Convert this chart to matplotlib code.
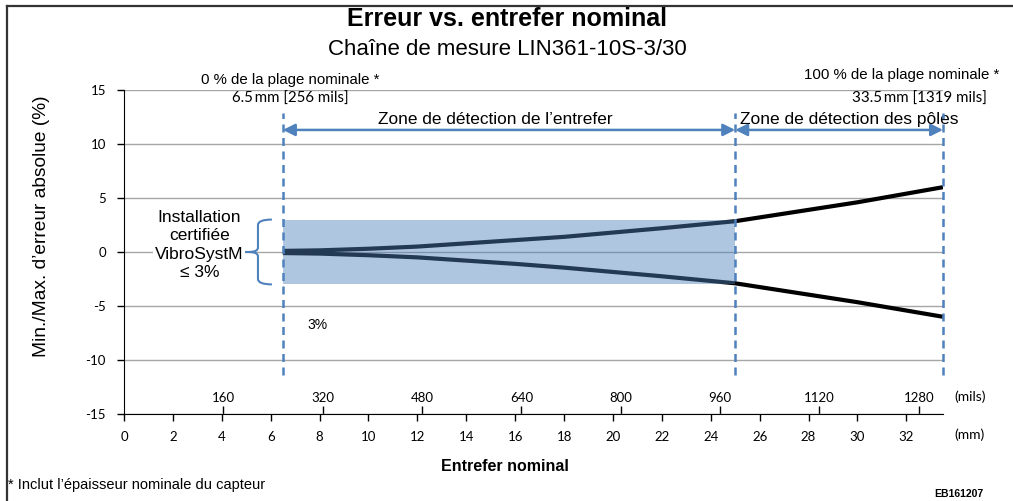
import matplotlib
matplotlib.use("Agg")
import matplotlib.pyplot as plt
from matplotlib.lines import Line2D
from matplotlib.patches import PathPatch
from matplotlib.path import Path

plt.rcParams["font.family"] = ["Liberation Sans", "DejaVu Sans"]
plt.rcParams["axes.unicode_minus"] = False

# données (entrefer en mm, erreur en %)
gap_mm = [6.5, 8, 10, 12, 14, 16, 18, 20, 22, 25, 28, 30, 33.5]
err_max = [0.1, 0.15, 0.3, 0.5, 0.8, 1.1, 1.4, 1.8, 2.2, 2.85, 3.9, 4.6, 6.0]
err_min = [-0.1, -0.15, -0.3, -0.5, -0.8, -1.1, -1.45, -1.85, -2.25, -2.9, -3.95, -4.65, -6.0]

gap_start = 6.5      # 0 % de la plage nominale
gap_switch = 25.0    # passage entrefer -> pôles
gap_end = 33.5       # 100 % de la plage nominale
certified_tol = 3.0  # installation certifiée <= 3 %

mm_ticks = list(range(0, 33, 2))
mils_ticks = [160, 320, 480, 640, 800, 960, 1120, 1280]
y_ticks = [15, 10, 5, 0, -5, -10, -15]

BLUE = "#4F81BD"
NUM_FONT = ["Lato", "DejaVu Sans"]

fig = plt.figure(figsize=(10.13, 5.01), dpi=100)
ax = fig.add_axes([0.1224, 0.1737, 0.8085, 0.6467])

ax.set_xlim(0, gap_end)
ax.set_ylim(-15, 15)
ax.set_yticks(y_ticks)
ax.set_xticks(mm_ticks)
ax.grid(axis="y", color="#a6a6a6", linewidth=1.0)
ax.set_axisbelow(True)
for s in ("top", "right"):
    ax.spines[s].set_visible(False)
ax.tick_params(axis="both", direction="out", length=5, width=1.0, labelsize=9.5)
ax.tick_params(axis="x", pad=7)
ax.tick_params(axis="y", pad=8)
for lab in ax.get_xticklabels() + ax.get_yticklabels():
    lab.set_family(NUM_FONT)

# axe secondaire en mils, graduations vers le haut sur le même axe
sec = ax.secondary_xaxis(0.0, functions=(lambda v: v / 0.0254, lambda v: v * 0.0254))
sec.set_alignment("top")
sec.set_xticks(mils_ticks)
sec.tick_params(axis="x", direction="out", length=6, width=1.0, labelsize=9.5, pad=1)
for lab in sec.get_xticklabels():
    lab.set_family(NUM_FONT)
for s in sec.spines.values():
    s.set_visible(False)

ax.text(34.6, -13.4, "(mils)", ha="center", va="center", fontsize=10, family=NUM_FONT, clip_on=False)
ax.text(34.6, -16.95, "(mm)", ha="center", va="center", fontsize=10, family=NUM_FONT, clip_on=False)

# courbes min / max
ax.plot(gap_mm, err_max, color="black", linewidth=3.0, zorder=3, solid_capstyle="butt")
ax.plot(gap_mm, err_min, color="black", linewidth=3.0, zorder=3, solid_capstyle="butt")

# zone certifiée
ax.fill_between([gap_start, gap_switch], -certified_tol, certified_tol,
                color=BLUE, alpha=0.45, linewidth=0, zorder=4)

# limites verticales en tirets
ax.vlines([gap_start, gap_switch, gap_end], -11.4, 12.9, colors=BLUE,
          linestyles=(0, (3.2, 2.2)), linewidth=1.8, zorder=5, clip_on=False)

# flèches des zones
arrow_y = 11.3
arrow_kw = dict(arrowstyle="<|-|>", color=BLUE, lw=1.8, mutation_scale=18, shrinkA=0, shrinkB=0)
ax.annotate("", xy=(gap_start, arrow_y), xytext=(gap_switch, arrow_y), arrowprops=arrow_kw)
ax.annotate("", xy=(gap_switch, arrow_y), xytext=(gap_end, arrow_y), arrowprops=arrow_kw)
ax.text(15.2, 12.25, "Zone de détection de l\u2019entrefer", ha="center", va="center", fontsize=12.4)
ax.text(25.2, 12.25, "Zone de détection des pôles", ha="left", va="center", fontsize=12.5)

# repères 0 % et 100 %
ax.text(6.8, 15.95, "0 % de la plage nominale *", ha="center", va="center", fontsize=10.8, clip_on=False)
ax.text(6.8, 14.15, "6.5\u2009mm [256 mils]", ha="center", va="center", fontsize=10.8,
        family=NUM_FONT, clip_on=False)
ax.text(35.8, 16.4, "100 % de la plage nominale *", ha="right", va="center", fontsize=10.8, clip_on=False)
ax.text(35.3, 14.15, "33.5\u2009mm [1319 mils]", ha="right", va="center", fontsize=10.8,
        family=NUM_FONT, clip_on=False)

# accolade + texte installation certifiée
brace = Path(
    [(6.05, 3.0), (5.48, 3.0), (5.48, 2.5), (5.48, 0.4), (5.48, 0.0), (5.1, 0.0), (4.86, 0.0),
     (5.1, 0.0), (5.48, 0.0), (5.48, -0.4), (5.48, -2.5), (5.48, -3.0), (6.05, -3.0)],
    [Path.MOVETO, Path.CURVE3, Path.CURVE3, Path.LINETO, Path.CURVE3, Path.CURVE3, Path.LINETO,
     Path.MOVETO, Path.CURVE3, Path.CURVE3, Path.LINETO, Path.CURVE3, Path.CURVE3])
ax.add_patch(PathPatch(brace, facecolor="none", edgecolor=BLUE, linewidth=1.5, zorder=5))
ax.text(3.08, 0.65, "Installation\ncertifiée\nVibroSystM\n\u2264 3%", ha="center", va="center",
        fontsize=12.5, linespacing=1.3, zorder=6,
        bbox=dict(boxstyle="square,pad=0.1", facecolor="white", edgecolor="none"))
ax.text(7.9, -6.75, "3%", ha="center", va="center", fontsize=10)

ax.set_ylabel("Min./Max. d\u2019erreur absolue (%)", fontsize=13.8)
ax.yaxis.set_label_coords(-0.09, 0.58)

fig.text(0.498, 0.068, "Entrefer nominal", ha="center", va="center", fontsize=11.5, weight="bold")
fig.text(0.5, 0.963, "Erreur vs. entrefer nominal", ha="center", va="center", fontsize=18, weight="bold")
fig.text(0.501, 0.902, "Chaîne de mesure LIN361-10S-3/30", ha="center", va="center", fontsize=16)
fig.text(0.008, 0.032, "* Inclut l\u2019épaisseur nominale du capteur", ha="left", va="center", fontsize=10.5)
fig.text(0.947, 0.013, "EB161207", ha="center", va="center", fontsize=7.5, weight="bold")

# cadre (bord gauche et haut)
fig.add_artist(Line2D([0.0065, 0.0065], [0.0, 0.988], color="#333333", linewidth=1.6))
fig.add_artist(Line2D([0.0065, 1.0], [0.988, 0.988], color="#333333", linewidth=1.6))

fig.savefig("out.png", dpi=100)
